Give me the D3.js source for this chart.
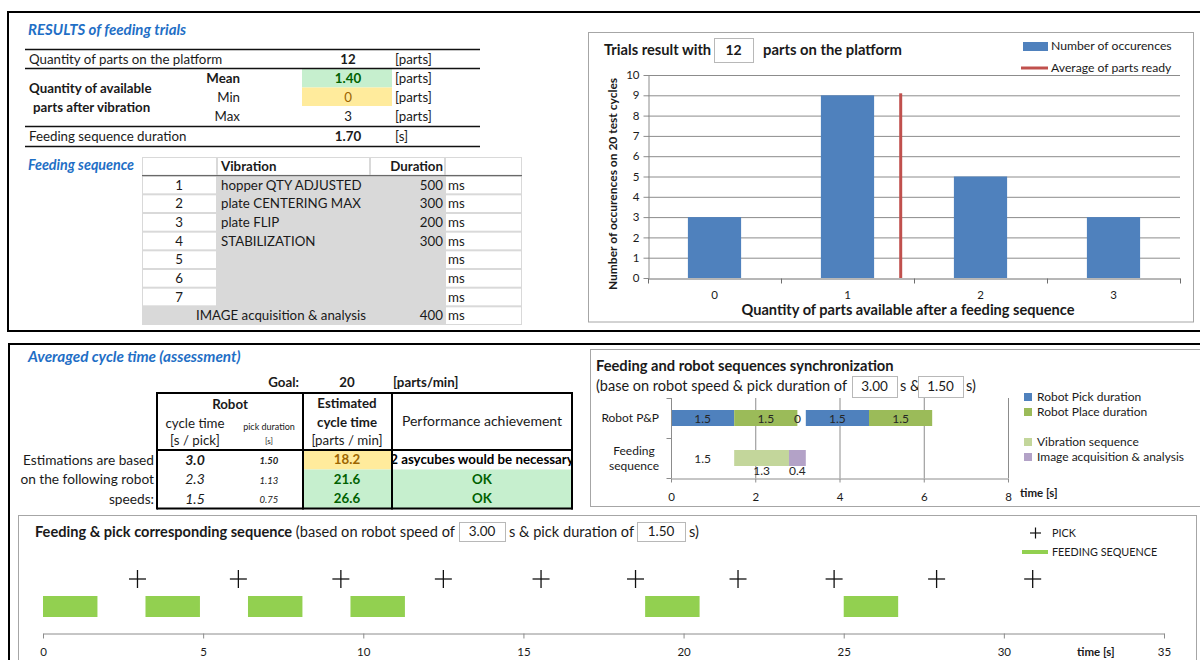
<!DOCTYPE html>
<html><head><meta charset="utf-8">
<script src="https://cdn.jsdelivr.net/npm/d3@7"></script>
<style>
body{margin:0;background:#fff;}
svg{display:block;font-family:Lato,"Open Sans",sans-serif;}
</style></head><body>
<svg id="c" width="1200" height="660"></svg>
<script>
// ---------------- DATA ----------------
// Results of feeding trials
const partsOnPlatform = 12;
const availMean = 1.40;
const availMin = 0;
const availMax = 3;
const feedingDuration = 1.70;
const summaryLabels = ["Quantity of parts on the platform", "Mean", "Min", "Max", "Feeding sequence duration"];
const summaryUnits = ["[parts]", "[parts]", "[parts]", "[parts]", "[s]"];
// Feeding sequence table
const seqSteps = ["1", "2", "3", "4", "5", "6", "7"];
const seqNames = ["hopper QTY ADJUSTED", "plate CENTERING MAX", "plate FLIP", "STABILIZATION", "", "", ""];
const seqDurations = [500, 300, 200, 300, null, null, null];
const imageStepName = "IMAGE acquisition & analysis";
const imageDuration = 400;
// Histogram of trials
const partsCategories = [0, 1, 2, 3];
const occurrences = [3, 9, 5, 3];
const histYTicks = [0, 1, 2, 3, 4, 5, 6, 7, 8, 9, 10];
const averageParts = 1.40;
// Averaged cycle time
const goalRate = 20;
const cycleRowLabels = ["Estimations are based", "on the following robot", "speeds:"];
const robotCycleTimes = [3.0, 2.3, 1.5];
const pickDurations = [1.50, 1.13, 0.75];
const estimatedRates = [18.2, 21.6, 26.6];
const performanceText = ["2 asycubes would be necessary", "OK", "OK"];
// Synchronization chart
const syncRows = ["Robot P&P", "Feeding sequence"];
const robotSegTypes = ["pick", "place", "wait", "idle", "pick", "place"];
const robotSegDur = [1.5, 1.5, 0, 0.2, 1.5, 1.5];
const feedSegTypes = ["offset", "vibration", "image"];
const feedSegDur = [1.5, 1.3, 0.4];
const syncTicks = [0, 2, 4, 6, 8];
const syncRobotSpeed = 3.00;
const syncPickDuration = 1.50;
// Feeding & pick sequence
const pickTimes = [2.95, 6.1, 9.3, 12.5, 15.55, 18.5, 21.7, 24.7, 27.9, 30.9];
const feedStarts = [0, 3.2, 6.4, 9.6, 18.8, 25.0];
const feedEnds = [1.7, 4.9, 8.1, 11.3, 20.5, 26.7];
const seqTicks = [0, 5, 10, 15, 20, 25, 30, 35];

// ---------------- HELPERS ----------------
const BLUE = "#1f6fc6", TXT = "#1a1a1a", GRID = "#8c8c8c", FRAME = "#a6a6a6";
const FS = 13.3;
const svg = d3.select("#c");
function txt(g, x, y, s, o = {}) {
  return g.append("text").attr("x", x).attr("y", y).attr("dy", "0.35em")
    .attr("text-anchor", o.anchor || "start")
    .attr("font-size", o.size || FS)
    .attr("font-weight", o.bold ? "bold" : null)
    .attr("font-style", o.italic ? "italic" : null)
    .attr("fill", o.color || TXT)
    .text(s);
}
function line(g, x1, y1, x2, y2, c, w) {
  return g.append("line").attr("x1", x1).attr("y1", y1).attr("x2", x2).attr("y2", y2)
    .attr("stroke", c).attr("stroke-width", w);
}
function valueBox(g, x, y, w, h, s, o = {}) {
  g.append("rect").attr("x", x + 0.5).attr("y", y + 0.5).attr("width", w).attr("height", h)
    .attr("fill", "#fff").attr("stroke", "#b8b8b8");
  txt(g, x + w / 2, y + h / 2, s, Object.assign({anchor: "middle"}, o));
}

// ---------------- FRAMES ----------------
const frames = svg.append("g");
line(frames, 7, 12, 1200, 12, "#000", 2);
line(frames, 7, 331, 1200, 331, "#000", 2);
line(frames, 8, 11, 8, 332, "#000", 2);
line(frames, 8, 344, 1200, 344, "#000", 2);
line(frames, 9, 343, 9, 660, "#000", 2);

// ---------------- TOP-LEFT: results table ----------------
const tl = svg.append("g");
txt(tl, 28, 30, "RESULTS of feeding trials", {bold: 1, italic: 1, color: BLUE, size: 15});
const sumY = d3.scaleOrdinal().domain(d3.range(5)).range([59, 78, 97, 116, 136]);
const sumValues = [d3.format("d")(partsOnPlatform), d3.format(".2f")(availMean), d3.format("d")(availMin), d3.format("d")(availMax), d3.format(".2f")(feedingDuration)];
tl.append("rect").attr("x", 302).attr("y", 69).attr("width", 90).attr("height", 18.5).attr("fill", "#c6efce");
tl.append("rect").attr("x", 302).attr("y", 87.5).attr("width", 90).attr("height", 18.5).attr("fill", "#ffeb9c");
[49.5, 68.5, 126.5, 146.5].forEach(y => line(tl, 25, y, 480, y, "#111", 1.5));
summaryLabels.forEach((s, i) => {
  const inner = i >= 1 && i <= 3;
  txt(tl, inner ? 240 : 29, sumY(i), s, {anchor: inner ? "end" : "start", bold: i === 1});
  const col = i === 1 ? "#006100" : (i === 2 ? "#9c6500" : TXT);
  txt(tl, 348, sumY(i), sumValues[i], {anchor: "middle", bold: (i === 0 || i === 1 || i === 4), color: col});
  txt(tl, 395, sumY(i), summaryUnits[i]);
});
txt(tl, 29, 88, "Quantity of available", {bold: 1});
txt(tl, 33, 107, "parts after vibration", {bold: 1});

// Feeding sequence table
txt(tl, 28, 165, "Feeding sequence", {bold: 1, italic: 1, color: BLUE, size: 14.3});
const seqCols = [142, 217, 370, 445, 522];
const seqY = d3.scaleBand().domain(d3.range(9)).range([157, 325]);
tl.append("rect").attr("x", 142).attr("y", 157).attr("width", 380).attr("height", 168).attr("fill", "#d9d9d9");
const whiteCell = (c, r) => tl.append("rect").attr("x", seqCols[c] + 1).attr("y", seqY(r) + 1)
  .attr("width", seqCols[c + 1] - seqCols[c] - 2).attr("height", seqY.bandwidth() - 2).attr("fill", "#fff");
for (let c = 0; c < 4; c++) whiteCell(c, 0);
seqSteps.forEach((s, i) => { whiteCell(0, i + 1); whiteCell(3, i + 1); });
whiteCell(3, 8);
line(tl, 142, seqY(1), 522, seqY(1), "#555", 1);
const midY = r => seqY(r) + seqY.bandwidth() / 2;
txt(tl, 221, midY(0), "Vibration", {bold: 1});
txt(tl, 443, midY(0), "Duration", {bold: 1, anchor: "end"});
seqSteps.forEach((s, i) => {
  txt(tl, 179, midY(i + 1), s, {anchor: "middle"});
  txt(tl, 221, midY(i + 1), seqNames[i]);
  if (seqDurations[i] != null) txt(tl, 443, midY(i + 1), seqDurations[i], {anchor: "end"});
  txt(tl, 448, midY(i + 1), "ms");
});
txt(tl, 281, midY(8), imageStepName, {anchor: "middle"});
txt(tl, 443, midY(8), imageDuration, {anchor: "end"});
txt(tl, 448, midY(8), "ms");

// ---------------- TOP-RIGHT: histogram ----------------
const hr = svg.append("g");
hr.append("rect").attr("x", 588.5).attr("y", 32.5).attr("width", 605).attr("height", 289.5)
  .attr("fill", "#fff").attr("stroke", FRAME);
txt(hr, 604, 50, "Trials result with", {bold: 1, size: 14.7});
valueBox(hr, 714, 38, 39, 24, d3.format("d")(partsOnPlatform), {bold: 1, size: 14});
txt(hr, 763, 50, "parts on the platform", {bold: 1, size: 14.8});
const px0 = 648, px1 = 1180;
const hx = d3.scaleBand().domain(partsCategories).range([px0, px1]).paddingInner(0.6).paddingOuter(0.3);
const hxv = d3.scaleLinear().domain([-0.5, partsCategories.length - 0.5]).range([px0, px1]);
const hy = d3.scaleLinear().domain([0, 10]).range([278, 75]);
hr.append("g").selectAll("line").data(histYTicks.slice(1)).join("line")
  .attr("x1", px0).attr("x2", px1).attr("y1", d => hy(d) + 0.5).attr("y2", d => hy(d) + 0.5)
  .attr("stroke", GRID).attr("stroke-width", 1);
hr.append("g").selectAll("rect").data(partsCategories).join("rect")
  .attr("x", d => hx(d)).attr("width", hx.bandwidth())
  .attr("y", (d, i) => hy(occurrences[i])).attr("height", (d, i) => hy(0) - hy(occurrences[i]))
  .attr("fill", "#4f81bd");
line(hr, hxv(averageParts), hy(0), hxv(averageParts), hy(d3.max(occurrences)) - 2, "#c0504d", 3);
const yAx = hr.append("g").attr("transform", `translate(${px0 + 0.5},0)`)
  .call(d3.axisLeft(hy).tickValues(histYTicks).tickSize(5).tickSizeOuter(0).tickPadding(4));
yAx.select(".domain").attr("stroke", GRID);
yAx.selectAll(".tick line").attr("stroke", GRID);
yAx.selectAll("text").attr("font-size", 11.5).attr("fill", TXT).attr("font-family", "Lato");
const xAx = hr.append("g").attr("transform", `translate(0,${hy(0) + 0.5})`)
  .call(d3.axisBottom(hxv).tickValues(d3.range(-0.5, partsCategories.length, 1)).tickSize(5).tickSizeOuter(0).tickFormat(""));
xAx.select(".domain").attr("stroke", "#6e6e6e");
xAx.selectAll(".tick line").attr("stroke", "#6e6e6e");
const xLab = hr.append("g").attr("transform", `translate(0,${hy(0) + 0.5})`)
  .call(d3.axisBottom(hx).tickSize(0).tickPadding(12));
xLab.select(".domain").remove();
xLab.selectAll("text").attr("font-size", 11.5).attr("fill", TXT).attr("font-family", "Lato");
txt(hr, 908, 310, "Quantity of parts available after a feeding sequence", {anchor: "middle", bold: 1, size: 14.6});
txt(hr, 0, 0, "Number of occurences on 20 test cycles", {anchor: "middle", bold: 1, size: 12})
  .attr("transform", "translate(613,184) rotate(-90)");
hr.append("rect").attr("x", 1023).attr("y", 42).attr("width", 25).attr("height", 9).attr("fill", "#4f81bd");
txt(hr, 1051, 46, "Number of occurences", {size: 12.2});
line(hr, 1021, 68, 1048, 68, "#c0504d", 3);
txt(hr, 1051, 68, "Average of parts ready", {size: 12.2});

// ---------------- MIDDLE-LEFT: cycle time table ----------------
const ml = svg.append("g");
txt(ml, 28, 357, "Averaged cycle time (assessment)", {bold: 1, italic: 1, color: BLUE, size: 15.3});
txt(ml, 299, 382, "Goal:", {bold: 1, anchor: "end"});
txt(ml, 347, 382, d3.format("d")(goalRate), {bold: 1, anchor: "middle"});
txt(ml, 393, 382, "[parts/min]", {bold: 1});
const cy = d3.scaleBand().domain(d3.range(3)).range([450, 508.5]);
const cMid = i => cy(i) + cy.bandwidth() / 2;
const tcols = [157, 303, 392, 572];
ml.append("rect").attr("x", tcols[1]).attr("y", cy(0)).attr("width", tcols[2] - tcols[1]).attr("height", cy.bandwidth()).attr("fill", "#ffeb9c");
[1, 2].forEach(i => ml.append("rect").attr("x", tcols[1]).attr("y", cy(i)).attr("width", tcols[3] - tcols[1]).attr("height", cy.bandwidth()).attr("fill", "#c6efce"));
txt(ml, 230, 404, "Robot", {bold: 1, anchor: "middle"});
txt(ml, 195, 423, "cycle time", {anchor: "middle"});
txt(ml, 195, 440, "[s / pick]", {anchor: "middle"});
txt(ml, 269, 427, "pick duration", {anchor: "middle", size: 9});
txt(ml, 269, 441, "[s]", {anchor: "middle", size: 8});
txt(ml, 347, 403, "Estimated", {bold: 1, anchor: "middle"});
txt(ml, 347, 422, "cycle time", {bold: 1, anchor: "middle"});
txt(ml, 347, 440, "[parts / min]", {anchor: "middle"});
txt(ml, 482, 421, "Performance achievement", {anchor: "middle", size: 14});
ml.append("clipPath").attr("id", "perfClip").append("rect")
  .attr("x", tcols[2]).attr("y", 440).attr("width", tcols[3] - tcols[2]).attr("height", 80);
cycleRowLabels.forEach((s, i) => {
  txt(ml, 154, cMid(i), s, {anchor: "end", size: 13.7});
  txt(ml, 195, cMid(i), d3.format(".1f")(robotCycleTimes[i]), {anchor: "middle", italic: 1, bold: i === 0, size: 14});
  txt(ml, 269, cMid(i) + 1, d3.format(".2f")(pickDurations[i]), {anchor: "middle", italic: 1, bold: i === 0, size: 9.5});
  txt(ml, 347, cMid(i), d3.format(".1f")(estimatedRates[i]), {anchor: "middle", bold: 1,
    color: estimatedRates[i] < goalRate ? "#9c6500" : "#006100"});
  txt(ml, 482, cMid(i), performanceText[i], {anchor: "middle", bold: 1,
    color: estimatedRates[i] < goalRate ? "#000" : "#006100"}).attr("clip-path", "url(#perfClip)");
});
line(ml, tcols[0], 393, tcols[3] + 1, 393, "#000", 2);
line(ml, tcols[0], 450, tcols[3] + 1, 450, "#000", 2);
line(ml, tcols[0], 508.5, tcols[3] + 1, 508.5, "#000", 2);
tcols.forEach(x => line(ml, x, 392, x, 509.5, "#000", 2));

// ---------------- MIDDLE-RIGHT: synchronization chart ----------------
const sr = svg.append("g");
sr.append("rect").attr("x", 590.5).attr("y", 349.5).attr("width", 640).attr("height", 157)
  .attr("fill", "#fff").attr("stroke", FRAME);
txt(sr, 596, 366, "Feeding and robot sequences synchronization", {bold: 1, size: 14.7});
txt(sr, 596, 386, "(base on robot  speed & pick duration of", {size: 14.5});
valueBox(sr, 852, 376, 45, 21, d3.format(".2f")(syncRobotSpeed), {size: 13.5});
txt(sr, 900, 386, "s &", {size: 14.5});
valueBox(sr, 918, 376, 45, 21, d3.format(".2f")(syncPickDuration), {size: 13.5});
txt(sr, 966, 386, "s)", {size: 14.5});
const sx = d3.scaleLinear().domain([0, 8]).range([671, 1008]);
const sy = d3.scaleBand().domain(syncRows).range([398, 478]).paddingInner(0.6).paddingOuter(0.3);
const syStep = sy.step();
sr.append("g").selectAll("line").data(syncTicks.slice(1)).join("line")
  .attr("x1", d => sx(d) + 0.5).attr("x2", d => sx(d) + 0.5)
  .attr("y1", 398).attr("y2", 478).attr("stroke", GRID);
const segColor = {pick: "#4f81bd", place: "#9bbb59", vibration: "#c3d69b", image: "#b3a2c7"};
function segs(types, durs) {
  const ends = Array.from(d3.cumsum(durs));
  return types.map((t, i) => ({t, v: durs[i], x0: ends[i] - durs[i], x1: ends[i]}));
}
const robotSegs = segs(robotSegTypes, robotSegDur);
const feedSegs = segs(feedSegTypes, feedSegDur);
const rowY = syncRows[0], rowF = syncRows[1];
sr.append("g").selectAll("rect").data(robotSegs.filter(d => segColor[d.t])).join("rect")
  .attr("x", d => sx(d.x0)).attr("width", d => sx(d.x1) - sx(d.x0))
  .attr("y", sy(rowY)).attr("height", sy.bandwidth()).attr("fill", d => segColor[d.t]);
sr.append("g").selectAll("rect").data(feedSegs.filter(d => segColor[d.t])).join("rect")
  .attr("x", d => sx(d.x0)).attr("width", d => sx(d.x1) - sx(d.x0))
  .attr("y", sy(rowF)).attr("height", sy.bandwidth()).attr("fill", d => segColor[d.t]);
const fmt1 = v => v === 0 ? "0" : d3.format(".1f")(v);
robotSegs.filter(d => d.t !== "idle").forEach(d =>
  txt(sr, sx((d.x0 + d.x1) / 2), sy(rowY) + sy.bandwidth() / 2 + 1, fmt1(d.v), {anchor: "middle", size: 12, color: "#262626"}));
feedSegs.forEach(d => {
  const yy = d.t === "offset" ? sy(rowF) + sy.bandwidth() / 2 + 1 : sy(rowF) + sy.bandwidth() + 5;
  txt(sr, sx((d.x0 + d.x1) / 2), yy, fmt1(d.v), {anchor: "middle", size: 12, color: "#262626"});
});
const syAx = sr.append("g").attr("transform", `translate(${sx(0) + 0.5},0)`);
line(syAx, 0, 398, 0, 478, GRID, 1);
[398, 398 + syStep, 478].forEach(y => line(syAx, -5, y + 0.5, 0, y + 0.5, GRID, 1));
const sxAx = sr.append("g").attr("transform", `translate(0,478.5)`)
  .call(d3.axisBottom(sx).tickValues(syncTicks).tickSize(4).tickSizeOuter(0).tickPadding(10));
sxAx.select(".domain").attr("stroke", GRID);
sxAx.selectAll(".tick line").attr("stroke", GRID);
sxAx.selectAll("text").attr("font-size", 11.5).attr("fill", TXT).attr("font-family", "Lato");
txt(sr, 1020, 493, "time [s]", {bold: 1, size: 11.5});
txt(sr, 659, sy(rowY) + sy.bandwidth() / 2, rowY, {anchor: "end", size: 12});
const rowFParts = rowF.split(" ");
txt(sr, 634, 451, rowFParts[0], {anchor: "middle", size: 12});
txt(sr, 634, 466, rowFParts[1], {anchor: "middle", size: 12});
const sLeg = [["Robot Pick duration", segColor.pick, 397], ["Robot Place duration", segColor.place, 412],
              ["Vibration sequence", segColor.vibration, 442], ["Image acquisition & analysis", segColor.image, 457]];
sLeg.forEach(([s, c, y]) => {
  sr.append("rect").attr("x", 1024).attr("y", y - 4).attr("width", 8).attr("height", 8).attr("fill", c);
  txt(sr, 1037, y, s, {size: 12});
});

// ---------------- BOTTOM: feeding & pick sequence ----------------
const bt = svg.append("g");
bt.append("rect").attr("x", 18.5).attr("y", 515.5).attr("width", 1178).attr("height", 170)
  .attr("fill", "#fff").attr("stroke", FRAME);
const tTitle = bt.append("text").attr("x", 35).attr("y", 532).attr("dy", "0.35em").attr("font-size", 14.6).attr("fill", TXT);
tTitle.append("tspan").attr("font-weight", "bold").text("Feeding & pick corresponding sequence");
tTitle.append("tspan").text(" (based on robot  speed of");
valueBox(bt, 459, 522, 46, 19, d3.format(".2f")(syncRobotSpeed), {size: 13.5});
txt(bt, 509, 532, "s & pick duration of", {size: 14.6});
valueBox(bt, 637, 522, 48, 19, d3.format(".2f")(syncPickDuration), {size: 13.5});
txt(bt, 689, 532, "s)", {size: 14.6});
const bx = d3.scaleLinear().domain([0, 35]).range([43, 1164]);
bt.append("g").selectAll("rect").data(feedStarts).join("rect")
  .attr("x", d => bx(d)).attr("width", (d, i) => bx(feedEnds[i]) - bx(d))
  .attr("y", 596).attr("height", 21).attr("fill", "#92d050");
const pickY = 579;
const pg = bt.append("g").selectAll("g").data(pickTimes).join("g")
  .attr("transform", d => `translate(${bx(d)},${pickY})`);
pg.append("line").attr("x1", -8.5).attr("x2", 8.5).attr("y1", 0).attr("y2", 0).attr("stroke", "#111").attr("stroke-width", 1.3);
pg.append("line").attr("x1", 0).attr("x2", 0).attr("y1", -9).attr("y2", 9).attr("stroke", "#111").attr("stroke-width", 1.3);
const bAx = bt.append("g").attr("transform", "translate(0,633.5)")
  .call(d3.axisBottom(bx).tickValues(seqTicks).tickSize(5).tickSizeOuter(0).tickPadding(9));
bAx.select(".domain").attr("stroke", GRID);
bAx.selectAll(".tick line").attr("stroke", GRID);
bAx.selectAll("text").attr("font-size", 11.5).attr("fill", TXT).attr("font-family", "Lato");
txt(bt, 1077, 652, "time [s]", {bold: 1, size: 11.5});
line(bt, 1030, 533, 1041, 533, "#111", 1.2);
line(bt, 1035.5, 527.5, 1035.5, 538.5, "#111", 1.2);
txt(bt, 1052, 533, "PICK", {size: 10.8});
line(bt, 1022, 552, 1048, 552, "#92d050", 4);
txt(bt, 1052, 552, "FEEDING SEQUENCE", {size: 10.8});
</script></body></html>
